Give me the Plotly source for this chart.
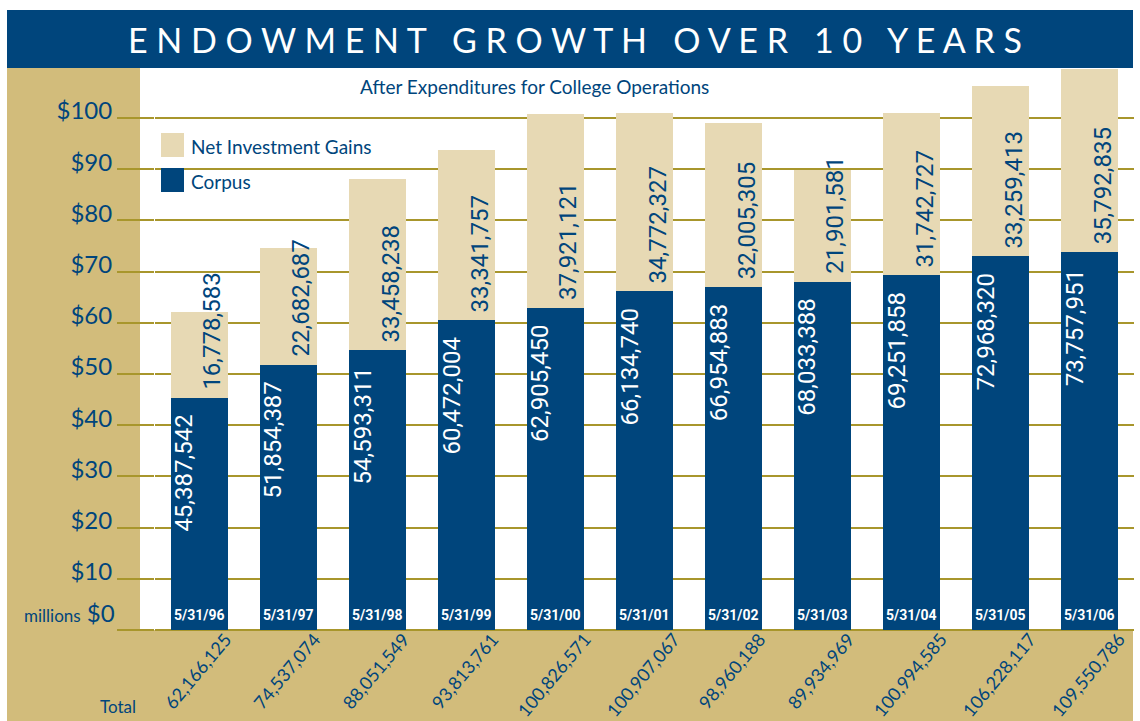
import plotly.graph_objects as go

dates = ["5/31/96", "5/31/97", "5/31/98", "5/31/99", "5/31/00", "5/31/01",
         "5/31/02", "5/31/03", "5/31/04", "5/31/05", "5/31/06"]
corpus = [45387542, 51854387, 54593311, 60472004, 62905450, 66134740,
          66954883, 68033388, 69251858, 72968320, 73757951]
gains = [16778583, 22682687, 33458238, 33341757, 37921121, 34772327,
         32005305, 21901581, 31742727, 33259413, 35792835]
totals = [62166125, 74537074, 88051549, 93813761, 100826571, 100907067,
          98960188, 89934969, 100994585, 106228117, 109550786]
y_ticks = [0, 10, 20, 30, 40, 50, 60, 70, 80, 90, 100]

BLUE = "#00457c"
TAN = "#e7d9b4"
GOLD = "#d2bc7b"
GRID = "#a8962c"

W, H = 1140, 721
L, R, T, B = 155, 6, 68, 91
PW, PH = W - L - R, H - T - B


def px(x):
    return (x - L) / PW


def py(y):
    return (H - B - y) / PH


corpus_m = [v / 1e6 for v in corpus]
gains_m = [v / 1e6 for v in gains]

fig = go.Figure()
fig.add_bar(x=dates, y=corpus_m, name="Corpus", marker_color=BLUE, marker_line_width=0)
fig.add_bar(x=dates, y=gains_m, name="Net Investment Gains", marker_color=TAN, marker_line_width=0)

shapes = [
    dict(type="rect", xref="paper", yref="paper", x0=px(7), x1=px(1133), y0=py(10), y1=py(68),
         fillcolor=BLUE, line_width=0, layer="below"),
    dict(type="rect", xref="paper", yref="paper", x0=px(7), x1=px(140), y0=py(68), y1=py(721),
         fillcolor=GOLD, line_width=0, layer="below"),
    dict(type="rect", xref="paper", yref="paper", x0=px(7), x1=px(1133), y0=py(630), y1=py(721),
         fillcolor=GOLD, line_width=0, layer="below"),
    # legend swatches
    dict(type="rect", xref="paper", yref="paper", x0=px(161), x1=px(184), y0=py(133), y1=py(157),
         fillcolor=TAN, line_width=0),
    dict(type="rect", xref="paper", yref="paper", x0=px(161), x1=px(184), y0=py(168), y1=py(192),
         fillcolor=BLUE, line_width=0),
]


def label(text, x, y, size, anchor="center", color=BLUE):
    return dict(text=text, xref="paper", yref="paper", x=px(x), y=py(y), xanchor=anchor,
                yanchor="middle", showarrow=False, font=dict(family="Lato", size=size, color=color))


ann = [
    label("E N D O W M E N T   G R O W T H   O V E R   1 0   Y E A R S", 575, 39, 34, color="white"),
    label("After Expenditures for College Operations", 534, 87, 19),
    label("Net Investment Gains", 189, 146, 19, "left"),
    label("Corpus", 189, 181, 19, "left"),
    label("<span style='font-size:17px'>millions</span> $0", 117, 612, 24, "right"),
    label("Total", 118, 706, 17),
]

for d, c, g, t in zip(dates, corpus, gains, totals):
    cm = c / 1e6
    ann.append(dict(text=f"{c:,}", x=d, y=cm, xref="x", yref="y", textangle=-90,
                    xanchor="center", yanchor="top", xshift=-15, yshift=-15, showarrow=False,
                    font=dict(family="Roboto", size=24, color="white")))
    ann.append(dict(text=f"{g:,}", x=d, y=cm, xref="x", yref="y", textangle=-90,
                    xanchor="center", yanchor="bottom", xshift=13, yshift=6, showarrow=False,
                    font=dict(family="Roboto", size=24, color=BLUE)))
    ann.append(dict(text=f"<b>{d}</b>", x=d, y=0, xref="x", yref="y",
                    yanchor="bottom", yshift=5, showarrow=False,
                    font=dict(family="Roboto", size=14, color="white")))
    ann.append(dict(text=f"{t:,}", x=d, y=0, xref="x", yref="y", textangle=-50,
                    xanchor="center", yanchor="top", xshift=-2, yshift=4, showarrow=False,
                    font=dict(family="Lato", size=18, color=BLUE)))

fig.update_layout(
    width=W, height=H,
    margin=dict(l=L, r=R, t=T, b=B),
    barmode="stack", bargap=0.35,
    showlegend=False,
    paper_bgcolor="white", plot_bgcolor="rgba(0,0,0,0)",
    shapes=shapes, annotations=ann,
    xaxis=dict(range=[-0.5, 10.5], showticklabels=False, showgrid=False, zeroline=False),
    yaxis=dict(range=[0, PH / 5.12], tickvals=y_ticks,
               ticktext=["" if v == 0 else f"${v}" for v in y_ticks],
               showgrid=True, gridcolor=GRID, gridwidth=2, zeroline=True, zerolinecolor=GRID,
               zerolinewidth=2, ticks="outside", ticklen=37, tickwidth=2, tickcolor=GRID,
               ticklabelshift=-7, tickfont=dict(family="Lato", size=24, color=BLUE)),
)

fig.write_html("out.html", config={"displayModeBar": False},
               post_script="document.body.style.margin='0px';")
